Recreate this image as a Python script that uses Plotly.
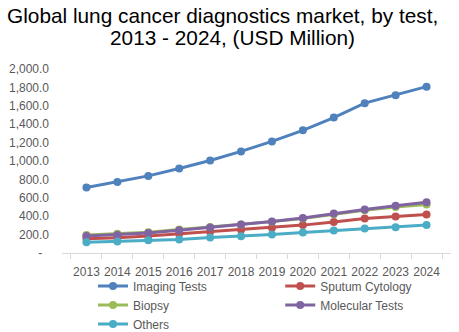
import plotly.graph_objects as go

years = ["2013", "2014", "2015", "2016", "2017", "2018", "2019", "2020", "2021", "2022", "2023", "2024"]
imaging = [712, 772, 838, 918, 1005, 1104, 1213, 1333, 1472, 1629, 1716, 1808]
sputum = [156, 166, 186, 208, 230, 252, 274, 303, 336, 375, 397, 419]
biopsy = [195, 210, 226, 256, 283, 311, 341, 376, 420, 465, 500, 527]
molecular = [184, 197, 218, 247, 276, 309, 342, 380, 430, 474, 514, 551]
others = [117, 124, 139, 146, 168, 183, 200, 222, 244, 266, 281, 303]

series = [
    ("Imaging Tests", imaging, "#4F81BD", "legend"),
    ("Sputum Cytology", sputum, "#C0504D", "legend2"),
    ("Biopsy", biopsy, "#9BBB59", "legend"),
    ("Molecular Tests", molecular, "#8064A2", "legend2"),
    ("Others", others, "#4BACC6", "legend"),
]

ytick_vals = [0, 200, 400, 600, 800, 1000, 1200, 1400, 1600, 1800, 2000]
ytick_text = ["-\u00a0\u00a0", "200.0", "400.0", "600.0", "800.0", "1,000.0", "1,200.0",
              "1,400.0", "1,600.0", "1,800.0", "2,000.0"]

title_line1 = "Global lung cancer diagnostics market, by test,"
title_line2 = "2013 - 2024, (USD Million)"

fig = go.Figure()
for name, vals, color, leg in series:
    fig.add_trace(go.Scatter(
        x=years, y=vals, name=name, mode="lines+markers",
        line=dict(color=color, width=3),
        marker=dict(color=color, size=8),
        legend=leg,
    ))

font_family = "Liberation Sans, Arial, sans-serif"
legend_common = dict(
    orientation="v", yanchor="top", xanchor="left",
    xref="paper", yref="container",
    font=dict(size=12, color="#595959", family=font_family),
    bgcolor="rgba(0,0,0,0)",
)
fig.update_layout(
    width=459, height=332,
    margin=dict(l=62, r=8, t=69, b=79, autoexpand=False),
    paper_bgcolor="white", plot_bgcolor="white",
    font=dict(family=font_family, size=12, color="#595959"),
    title=dict(
        text=title_line1,
        font=dict(family=font_family, size=20.8, color="black"),
        x=0.485, xanchor="center", xref="container",
        y=1 - 8 / 332, yanchor="top", yref="container",
    ),
    annotations=[dict(
        text=title_line2, showarrow=False,
        font=dict(family=font_family, size=20.8, color="black"),
        xref="paper", yref="paper", x=0.438, y=1.169,
        xanchor="center", yanchor="middle",
    )],
    showlegend=True,
    legend=dict(x=0.0797, y=0.182, **legend_common),
    legend2=dict(x=0.561, y=0.182, **legend_common),
    xaxis=dict(
        type="category", showgrid=False, showline=True, linecolor="#D9D9D9",
        linewidth=1, ticks="outside", tickson="boundaries", ticklen=5,
        tickcolor="#D9D9D9", tickangle=0, ticklabelstandoff=8, automargin=False,
        tickfont=dict(size=12, color="#595959"),
    ),
    yaxis=dict(
        range=[0, 2000], showgrid=False, showline=False, zeroline=False,
        tickvals=ytick_vals, ticktext=ytick_text, ticks="", automargin=False,
        ticklabelstandoff=12, tickfont=dict(size=12, color="#595959"),
    ),
)

fig.write_html("out.html")
